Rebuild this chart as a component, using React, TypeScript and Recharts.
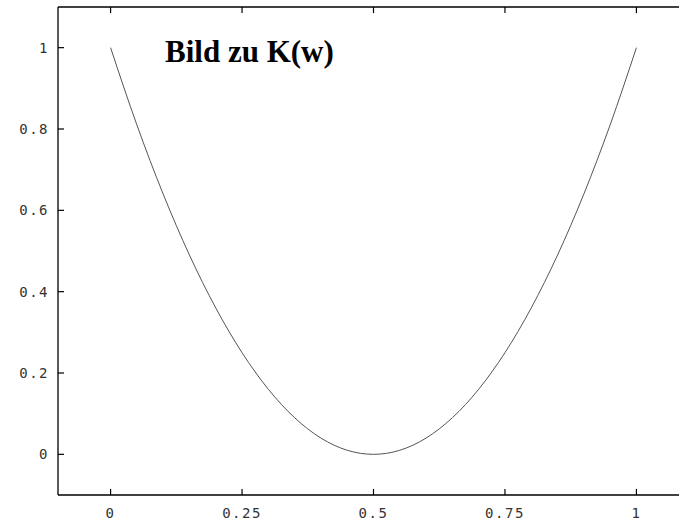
import { LineChart, Line, XAxis, YAxis, ReferenceLine } from "recharts";

// K(w)
const wValues = [0, 0.05, 0.1, 0.15, 0.2, 0.25, 0.3, 0.35, 0.4, 0.45, 0.5, 0.55, 0.6, 0.65, 0.7, 0.75, 0.8, 0.85, 0.9, 0.95, 1];
const kValues = [1, 0.81, 0.64, 0.49, 0.36, 0.25, 0.16, 0.09, 0.04, 0.01, 0, 0.01, 0.04, 0.09, 0.16, 0.25, 0.36, 0.49, 0.64, 0.81, 1];
const xTicks = [0, 0.25, 0.5, 0.75, 1];
const yTicks = [0, 0.2, 0.4, 0.6, 0.8, 1];

const data = wValues.map((w, i) => ({ w, k: kValues[i] }));

const lo = -0.1;
const hi = 1.1;
// inward tick length in data units (about 6px on each axis)
const xTickLen = 0.015;
const yTickLen = 0.0115;

const tickFont = { fontFamily: "DejaVu Sans Mono", fontSize: 14, fill: "#333", letterSpacing: 1.5 };

const BottomTick = (props: any) => {
    const { x, y, payload } = props;
    return (
        <text x={x} y={y + 23} textAnchor="middle" style={tickFont}>{String(payload.value)}</text>
    );
};

const LeftTick = (props: any) => {
    const { x, y, payload } = props;
    return (
        <text x={x - 9} y={y + 5} textAnchor="end" style={tickFont}>{String(payload.value)}</text>
    );
};

export default function App() {
    return (
        <div style={{ position: "fixed", left: 0, top: 0, width: 679, height: 520, overflow: "hidden", background: "#fff" }}>
            <LineChart width={700} height={520} data={data} margin={{ top: 0, right: 11, left: 0, bottom: 0 }}>
                <XAxis
                    dataKey="w"
                    type="number"
                    domain={[lo, hi]}
                    ticks={xTicks}
                    height={25}
                    tickLine={false}
                    tickSize={0}
                    tickMargin={0}
                    axisLine={{ stroke: "#000", strokeWidth: 1.3 }}
                    tick={BottomTick}
                    allowDataOverflow
                />
                <XAxis
                    xAxisId="top"
                    orientation="top"
                    dataKey="w"
                    type="number"
                    domain={[lo, hi]}
                    ticks={xTicks}
                    height={7}
                    tickLine={false}
                    tick={false}
                    axisLine={{ stroke: "#000", strokeWidth: 1.3 }}
                    allowDataOverflow
                />
                <YAxis
                    type="number"
                    domain={[lo, hi]}
                    ticks={yTicks}
                    width={58}
                    tickLine={false}
                    tickSize={0}
                    tickMargin={0}
                    axisLine={{ stroke: "#000", strokeWidth: 1.3 }}
                    tick={LeftTick}
                    allowDataOverflow
                />
                {xTicks.map((t) => (
                    <ReferenceLine
                        key={`b${t}`}
                        segment={[{ x: t, y: lo }, { x: t, y: lo + xTickLen }]}
                        stroke="#000"
                        strokeWidth={1.2}
                        ifOverflow="visible"
                    />
                ))}
                {xTicks.map((t) => (
                    <ReferenceLine
                        key={`t${t}`}
                        segment={[{ x: t, y: hi }, { x: t, y: hi - xTickLen }]}
                        stroke="#000"
                        strokeWidth={1.2}
                        ifOverflow="visible"
                    />
                ))}
                {yTicks.map((t) => (
                    <ReferenceLine
                        key={`l${t}`}
                        segment={[{ x: lo, y: t }, { x: lo + yTickLen, y: t }]}
                        stroke="#000"
                        strokeWidth={1.2}
                        ifOverflow="visible"
                    />
                ))}
                <Line
                    type="monotone"
                    dataKey="k"
                    stroke="#555"
                    strokeWidth={1}
                    dot={false}
                    isAnimationActive={false}
                />
                <text x={165} y={62} style={{ fontFamily: "Liberation Serif", fontWeight: "bold", fontSize: 31, fill: "#000" }}>
                    Bild zu K(w)
                </text>
            </LineChart>
        </div>
    );
}
